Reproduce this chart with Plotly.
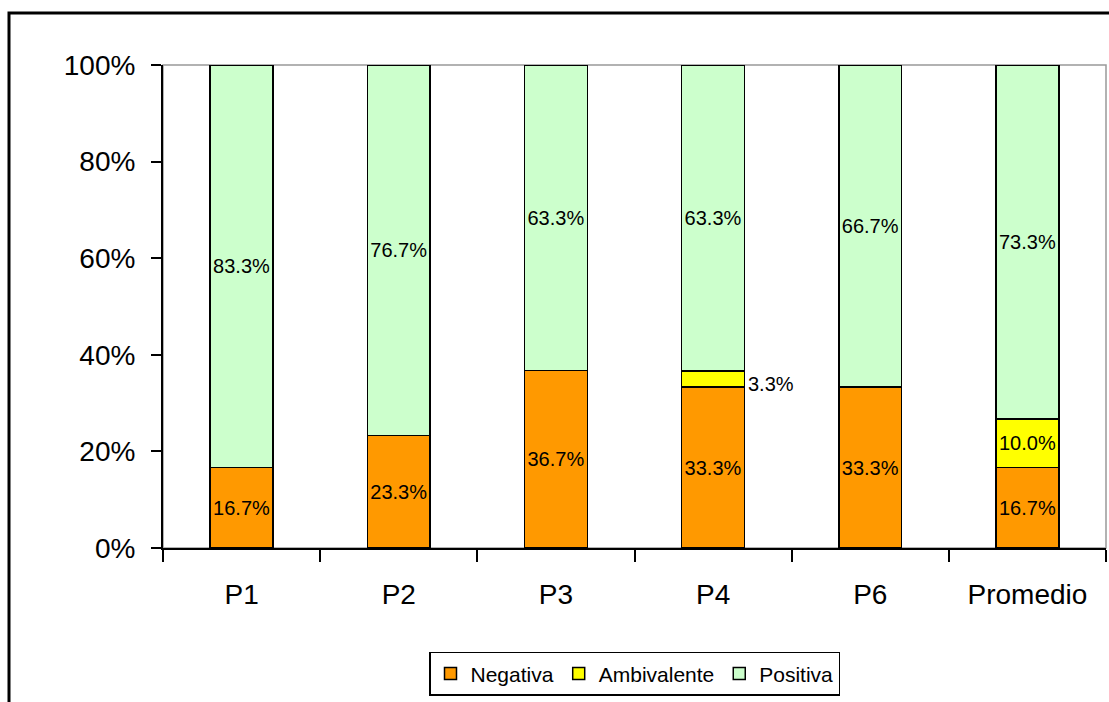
import plotly.graph_objects as go

categories = ["P1", "P2", "P3", "P4", "P6", "Promedio"]
negativa = [16.7, 23.3, 36.7, 33.3, 33.3, 16.7]
ambivalente = [0.0, 0.0, 0.0, 3.3, 0.0, 10.0]
positiva = [83.3, 76.7, 63.3, 63.3, 66.7, 73.3]
y_ticks = [0, 20, 40, 60, 80, 100]
y_tick_labels = ["0%", "20%", "40%", "60%", "80%", "100%"]

FONT = "Liberation Sans Narrow, Arial Narrow, Liberation Sans, Arial, sans-serif"
colors = {"Negativa": "#FF9900", "Ambivalente": "#FFFF00", "Positiva": "#CCFFCC"}


def labels(vals, skip=()):
    return ["" if (v == 0 or i in skip) else f"{v:.1f}%" for i, v in enumerate(vals)]


fig = go.Figure()
series = [
    ("Negativa", negativa, labels(negativa)),
    ("Ambivalente", ambivalente, labels(ambivalente, skip=(3,))),
    ("Positiva", positiva, labels(positiva)),
]
for name, vals, txt in series:
    fig.add_trace(go.Bar(
        name=name, x=categories, y=vals, text=txt,
        textposition="inside", insidetextanchor="middle", textangle=0,
        textfont=dict(family=FONT, size=20, color="black"),
        constraintext="none",
        marker=dict(color=colors[name], line=dict(color="black", width=1.5)),
        width=0.4, hoverinfo="skip",
    ))

# outside label for the small yellow segment of P4
fig.add_annotation(
    x="P4", y=negativa[3] + ambivalente[3] / 2, text=f"{ambivalente[3]:.1f}%",
    showarrow=False, xanchor="left", xshift=33, yshift=-5,
    font=dict(family=FONT, size=20, color="black"),
)

W, H = 1109, 702
L, R, T, B = 163, 3, 65, 154
pw, ph = W - L - R, H - T - B

# plot-area gray border
fig.add_shape(type="rect", xref="paper", yref="paper", x0=0, x1=1, y0=0, y1=1,
              line=dict(color="#999999", width=1.5), layer="below")
# outer chart frame
fig.add_shape(type="rect", xref="paper", yref="paper",
              x0=(9 - L) / pw, x1=1.2, y0=-0.6, y1=(T + ph - 13) / ph,
              line=dict(color="black", width=3), layer="below")

fig.update_layout(
    barmode="stack",
    width=W, height=H,
    margin=dict(l=L, r=R, t=T, b=B),
    paper_bgcolor="white", plot_bgcolor="white",
    font=dict(family=FONT, color="black"),
    legend=dict(
        orientation="h", x=0.5, xanchor="center", y=-0.215, yanchor="top",
        font=dict(family=FONT, size=21, color="black"),
        bordercolor="black", borderwidth=1.5, bgcolor="white",
        itemclick=False, traceorder="normal", itemwidth=30,
    ),
    showlegend=True,
)
fig.update_xaxes(
    type="category", tickson="boundaries", ticks="outside", ticklen=12,
    tickwidth=1.5, tickcolor="black", showline=True, linecolor="black", linewidth=2,
    showgrid=False, tickfont=dict(family=FONT, size=28, color="black"),
    ticklabelstandoff=20,
)
fig.update_yaxes(
    range=[0, 100], tickvals=y_ticks, ticktext=y_tick_labels, ticks="outside", ticklen=10,
    tickwidth=1.5, tickcolor="black", showline=True, linecolor="black", linewidth=2,
    showgrid=False, zeroline=False, tickfont=dict(family=FONT, size=28, color="black"),
    ticklabelstandoff=10,
)

fig.write_html("out.html")
